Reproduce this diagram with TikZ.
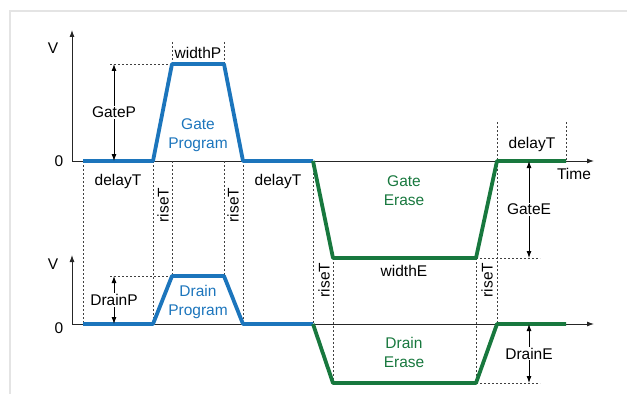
\documentclass[tikz,border=0pt]{standalone}
\usepackage{fontspec}
\setmainfont{Liberation Sans}
\usepackage{tikz}
\usetikzlibrary{arrows.meta, calc}
\usepackage{xcolor}
\definecolor{progblue}{RGB}{28,117,188}
\definecolor{erasegreen}{RGB}{24,120,62}
\definecolor{framegray}{RGB}{228,228,228}
\tikzstyle{wave} = [line width=3.8pt, 
line join=round]
\tikzstyle{axisline} = [line width=0.9pt, 
draw=black!85, 
-{Latex[length=7pt,width=5pt]}]
\tikzstyle{guide} = [line width=0.6pt, 
draw=black!75, 
dash pattern=on 2pt off 2pt]
\tikzstyle{dimarrow} = [line width=0.9pt, 
{Latex[length=7pt,width=5pt]}-{Latex[length=7pt,width=5pt]}]
\tikzstyle{lbl} = [font=\fontsize{15.5}{19}\selectfont, 
align=center, 
inner sep=1pt]

\begin{document}
\begin{tikzpicture}[x=1pt, y=-1pt]
\useasboundingbox (0,0) rectangle (627,396);
\draw [framegray, line width=1.5pt] (10,394) -- (10,11) -- (627,11);

% gate waveform corners
\coordinate (g0) at (83,161);
\coordinate (g1) at (153,161);
\coordinate (g2) at (172,64);
\coordinate (g3) at (224,64);
\coordinate (g4) at (243,161);
\coordinate (g5) at (313,161);
\coordinate (g6) at (333,258);
\coordinate (g7) at (476,258);
\coordinate (g8) at (497,161);
\coordinate (g9) at (566,161);
% drain waveform corners
\coordinate (d0) at (83,324);
\coordinate (d1) at (153,324);
\coordinate (d2) at (172,276);
\coordinate (d3) at (224,276);
\coordinate (d4) at (243,324);
\coordinate (d5) at (313,324);
\coordinate (d6) at (333,383);
\coordinate (d7) at (476,383);
\coordinate (d8) at (497,324);
\coordinate (d9) at (566,324);

% axes
\coordinate (go) at (72,161);
\coordinate (do) at (72,324);
\draw [axisline] (go) -- (72,30);
\draw [axisline] (go) -- (594,161);
\draw [axisline] (do) -- (72,255);
\draw [axisline] (do) -- (594,324);
\node (gV) [lbl] at (53,48) {V};
\node (g0lbl) [lbl] at (59,161) {0};
\node (dV) [lbl] at (53,264) {V};
\node (d0lbl) [lbl] at (59,328) {0};
\node (time) [lbl] at (574,174) {Time};

% timing guides
\draw [guide] (g0) -- (d0);
\draw [guide] (g1) -- (d1);
\draw [guide] (172,42) -- (g2);
\draw [guide] (g2 |- g0) -- (d2);
\draw [guide] (224,42) -- (g3);
\draw [guide] (g3 |- g0) -- (d3);
\draw [guide] (g4) -- (d4);
\draw [guide] (g5) -- (d5);
\draw [guide] (g6) -- (d6);
\draw [guide] (g7) -- (d7);
\draw [guide] (497,122) -- (g8);
\draw [guide] (g8) -- (d8);
\draw [guide] (566,122) -- (g9);
\draw [guide] (110,64) -- (g2);
\draw [guide] (110,276) -- (d2);
\draw [guide] (g7) -- (540,258);
\draw [guide] (d7) -- (540,383);

% waveforms
\draw [wave, progblue] (g0) -- (g1) -- (g2) -- (g3) -- (g4) -- (g5);
\draw [wave, erasegreen] (g5) -- (g6) -- (g7) -- (g8) -- (g9);
\draw [wave, progblue] (d0) -- (d1) -- (d2) -- (d3) -- (d4) -- (d5);
\draw [wave, erasegreen] (d5) -- (d6) -- (d7) -- (d8) -- (d9);

% amplitudes
\draw [dimarrow] (114,64) -- node[lbl, fill=white] (gateP) {GateP} (114,161);
\draw [dimarrow] (114,276) -- node[lbl, fill=white] (drainP) {DrainP} (114,324);
\draw [dimarrow] (529,161) -- node[lbl, fill=white] (gateE) {GateE} (529,258);
\draw [dimarrow] (529,324) -- node[lbl, fill=white] (drainE) {DrainE} (529,383);

% time labels
\node (widthP) [lbl] at (198,53) {widthP};
\node (delay1) [lbl] at (118,181) {delayT};
\node (delay2) [lbl] at (278,181) {delayT};
\node (delay3) [lbl] at (532,144) {delayT};
\node (rise1) [lbl, rotate=90] at (163,205) {riseT};
\node (rise2) [lbl, rotate=90] at (233,205) {riseT};
\node (rise3) [lbl, rotate=90] at (324,280) {riseT};
\node (rise4) [lbl, rotate=90] at (487,280) {riseT};
\node (widthE) [lbl] at (404,271) {widthE};

% pulse names
\node (gprog) [lbl, progblue] at (198,135) {Gate\\Program};
\node (dprog) [lbl, progblue] at (198,302) {Drain\\Program};
\node (gerase) [lbl, erasegreen] at (404,191) {Gate\\Erase};
\node (derase) [lbl, erasegreen] at (404,352) {Drain\\Erase};

\end{tikzpicture}
\end{document}
